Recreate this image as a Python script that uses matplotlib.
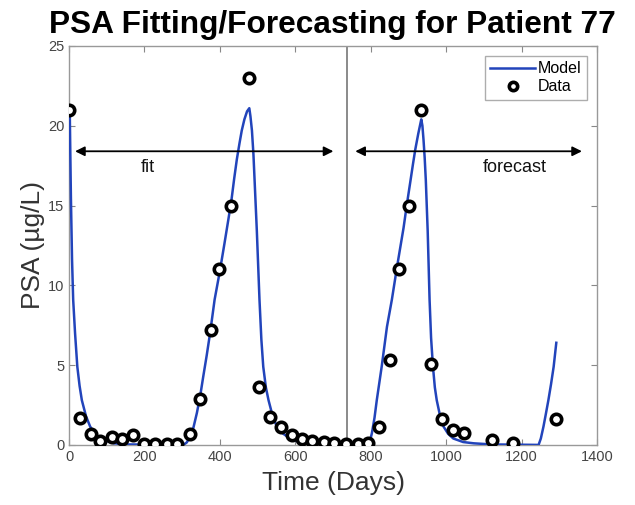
import matplotlib
matplotlib.use("Agg")
import matplotlib.pyplot as plt

plt.rcParams["font.family"] = ["Liberation Sans", "DejaVu Sans"]

# observed PSA values (days, ug/L)
data_days = [0, 29, 58, 82, 113, 140, 169, 199, 228, 259, 287, 320, 346, 376,
             398, 430, 478, 505, 533, 561, 591, 617, 645, 675, 703, 735, 765,
             794, 823, 850, 875, 902, 934, 959, 989, 1017, 1046, 1122, 1177, 1292]
data_psa = [21.0, 1.7, 0.7, 0.27, 0.5, 0.4, 0.6, 0.07, 0.07, 0.07, 0.07, 0.7,
            2.9, 7.2, 11.0, 15.0, 23.0, 3.6, 1.77, 1.1, 0.6, 0.4, 0.27, 0.2,
            0.15, 0.07, 0.07, 0.1, 1.1, 5.35, 11.0, 15.0, 21.0, 5.06, 1.6,
            0.94, 0.73, 0.3, 0.15, 1.6]

# model curve
model_days = [0, 2, 5, 8, 11, 16, 22, 28, 34, 45, 56, 72, 91, 120, 153, 303,
              312, 321, 330, 339, 348, 356, 365, 374, 386, 400, 412, 423, 431,
              438, 445, 452, 458, 465, 472, 478, 481, 485, 489, 492, 495, 498,
              505, 510, 515, 522, 529, 540, 551, 568, 586, 610, 630, 700, 794,
              798, 803, 810, 816, 829, 843, 856, 870, 887, 896, 905, 912, 918,
              926, 934, 937, 940, 943, 946, 951, 956, 960, 965, 970, 975, 984,
              993, 1005, 1019, 1045, 1073, 1120, 1245, 1251, 1258, 1264, 1271,
              1278, 1285, 1292]
model_psa = [21.0, 20.8, 15.5, 11.6, 9.1, 7.0, 4.9, 3.7, 2.8, 1.8, 1.15, 0.6,
             0.3, 0.1, 0.03, 0.0, 0.15, 0.5, 1.1, 2.0, 3.1, 4.3, 5.6, 7.0, 9.1,
             10.9, 12.6, 14.2, 15.4, 16.7, 17.9, 18.9, 19.7, 20.4, 20.9, 21.1,
             20.6, 19.7, 18.2, 16.6, 15.0, 13.4, 9.1, 6.6, 4.9, 3.6, 2.8, 1.8,
             1.15, 0.7, 0.4, 0.18, 0.1, 0.0, 0.0, 0.25, 0.73, 1.7, 2.8, 4.9,
             7.4, 9.1, 11.2, 13.6, 15.1, 16.5, 17.6, 18.5, 19.5, 20.4, 20.0,
             19.1, 18.0, 16.6, 13.4, 9.1, 6.7, 4.9, 3.6, 2.8, 1.8, 1.15, 0.7,
             0.4, 0.18, 0.1, 0.03, 0.0, 0.4, 1.15, 1.9, 2.8, 3.8, 4.9, 6.4]

split_day = 736
fit_span = (16, 701)
forecast_span = (759, 1360)
arrow_level = 18.4

x_ticks = [0, 200, 400, 600, 800, 1000, 1200, 1400]
y_ticks = [0, 5, 10, 15, 20, 25]

fig = plt.figure(figsize=(6.35, 5.05), dpi=100)
ax = fig.add_axes([0.1087, 0.119, 0.8315, 0.790])

ax.plot(model_days, model_psa, color="#2244bb", lw=1.8, label="Model", zorder=3)
ax.plot(data_days, data_psa, "o", ms=7.5, mfc="white", mec="black", mew=2.6,
        label="Data", zorder=4)

ax.axvline(split_day, color="#777777", lw=1.2, zorder=1)

arrow_kw = dict(arrowstyle="<|-|>", color="black", lw=1.3, mutation_scale=14,
                shrinkA=0, shrinkB=0)
ax.annotate("", xy=(fit_span[1], arrow_level), xytext=(fit_span[0], arrow_level),
            arrowprops=arrow_kw)
ax.annotate("", xy=(forecast_span[1], arrow_level),
            xytext=(forecast_span[0], arrow_level), arrowprops=arrow_kw)
ax.text(210, 17.4, "fit", fontsize=13, ha="center", va="center", color="#111111")
ax.text(1183, 17.4, "forecast", fontsize=13, ha="center", va="center",
        color="#111111")

ax.set_xlim(0, 1400)
ax.set_ylim(0, 25)
ax.set_xticks(x_ticks)
ax.set_yticks(y_ticks)
ax.tick_params(direction="in", top=True, right=True, length=4, width=0.8,
               colors="#888888", labelcolor="#444444", labelsize=10.5)
for spine in ax.spines.values():
    spine.set_color("#999999")
    spine.set_linewidth(1.0)

ax.set_xlabel("Time (Days)", fontsize=19, color="#333333", labelpad=5)
ax.set_ylabel("PSA (\u00b5g/L)", fontsize=19, color="#333333", labelpad=2)
fig.text(0.524, 0.950, "PSA Fitting/Forecasting for Patient 77", fontsize=22.8,
         fontweight="bold", ha="center", va="center", color="black")

leg = ax.legend(loc="upper right", fontsize=11.5, frameon=True, fancybox=False,
                handlelength=2.8, borderpad=0.35, labelspacing=0.2,
                handletextpad=0.2, borderaxespad=0.6)
leg.get_frame().set_edgecolor("#999999")
leg.get_frame().set_linewidth(1.0)
leg.legend_handles[1].set_markersize(6)

fig.savefig("out.png", dpi=100)
